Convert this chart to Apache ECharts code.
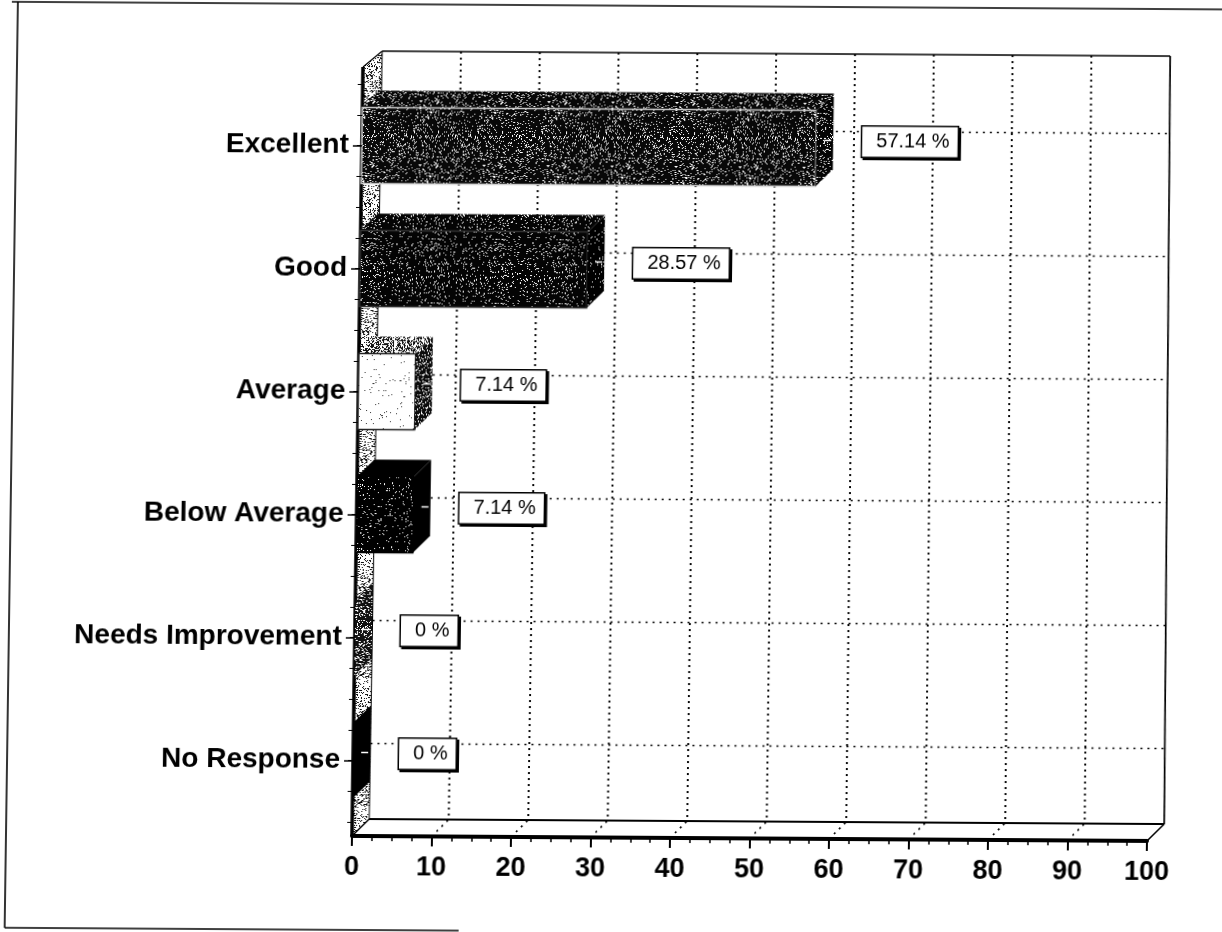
<!DOCTYPE html>
<html><head><meta charset="utf-8">
<style>html,body{margin:0;padding:0;background:#fff;overflow:hidden}
#c{width:1222px;height:932px;transform-origin:0 0;transform:matrix(1,0.0063,-0.0143,1,11.95,-2.2)}</style>
<script src="https://cdn.jsdelivr.net/npm/echarts@6/dist/echarts.min.js"></script>
</head><body><div id="c"></div>
<script>
const categories = ['Excellent','Good','Average','Below Average','Needs Improvement','No Response'];
const values = [57.14,28.57,7.14,7.14,0,0];
const valueLabels = ['57.14 %','28.57 %','7.14 %','7.14 %','0 %','0 %'];
const xTicks = [0,10,20,30,40,50,60,70,80,90,100];

const DEPTH = 17;
function tile(dark, light, density, seed){
  const n=64, cv=document.createElement('canvas'); cv.width=n; cv.height=n;
  const g=cv.getContext('2d'); g.fillStyle=dark; g.fillRect(0,0,n,n); g.fillStyle=light;
  let s=seed;
  for(let y=0;y<n;y++)for(let x=0;x<n;x++){
    s=(s*1103515245+12345)&0x7fffffff;
    if(((s>>12)&255)/255<density) g.fillRect(x,y,1,1);
  }
  return {image:cv,repeat:'repeat'};
}
const P = {
  speck: tile('#080808','#ffffff',0.14,7),
  speckDark: tile('#040404','#ffffff',0.09,11),
  stipple: tile('#ffffff','#111111',0.26,3),
  stippleMid: tile('#ffffff','#111111',0.5,5),
  sideMid: tile('#0c0c0c','#ffffff',0.2,9),
  nearWhite: tile('#ffffff','#333333',0.012,13),
  blackSpeck: tile('#000000','#ffffff',0.05,17),
  grayDark: tile('#111111','#ffffff',0.22,19)
};
const faces = [
  {front:P.speck, top:P.speck, side:P.speckDark, edge:'#cccccc'},
  {front:P.speckDark, top:P.speckDark, side:P.blackSpeck, edge:'#333333'},
  {front:P.nearWhite, top:P.stippleMid, side:P.sideMid, edge:'#222222'},
  {front:P.blackSpeck, top:'#000000', side:'#000000', edge:'#000000'},
  {front:P.grayDark, top:P.grayDark, side:P.grayDark, edge:'#000000'},
  {front:'#000000', top:'#000000', side:'#000000', edge:'#000000'}
];
function line(x1,y1,x2,y2,w,dash){
  return {type:'line',shape:{x1,y1,x2,y2},style:{stroke:'#000',lineWidth:w,lineDash:dash||null,fill:null},silent:true};
}
function poly(points,fill,stroke,w){
  return {type:'polygon',shape:{points},style:{fill,stroke:stroke||null,lineWidth:w||0},silent:true};
}
function renderWalls(params,api){
  const cs=params.coordSys, L=cs.x, R=cs.x+cs.width, bot=cs.y+cs.height, B=bot+14;
  const T=cs.y-17, d=DEPTH, ch=[], topY=T-d+1, botY=B-d;
  // back wall's upper edge leans a little less at the right than at the left (scan keystone)
  const topLean=t=>2-7*t/100;
  const leanAt=(t,y)=>topLean(t)*(botY-y)/(botY-topY);
  ch.push(poly([[L,T],[L+d+topLean(0),topY],[R+d+topLean(100),topY],[R+d,botY],[R,B],[L,B]],'#fff'));
  ch.push(poly([[L,T],[L+d+topLean(0),topY],[L+d,botY],[L,B]],P.stipple));
  xTicks.forEach(t=>{
    const x=api.coord([t,0])[0];
    if(t>0&&t<100){
      ch.push(line(x+d+topLean(t),topY,x+d,botY,1.9,[2,4]));
      ch.push(line(x,B,x+d,botY,1.6,[2,5]));
    }
  });
  categories.forEach((c,i)=>{
    const y=api.coord([0,i])[1]-d;
    ch.push(line(L+d+leanAt(0,y),y,R+d+leanAt(100,y),y,1.5,[2,5]));
  });
  ch.push(line(L+d+topLean(0),topY,R+d+topLean(100),topY,1.7));
  ch.push(line(R+d+topLean(100),topY,R+d,botY,1.7));
  ch.push(line(L+d,botY,R+d,botY,1.8));
  ch.push(line(L+d+topLean(0),topY,L+d,botY,1));
  ch.push(line(L,T,L+d+topLean(0),topY,1.2));
  ch.push(line(L,B,L+d,botY,1.4));
  ch.push(line(R,B,R+d,botY,1.6));
  ch.push(line(L,T,L,B,3.5));
  return {type:'group',children:ch};
}
function renderBars(params,api){
  const i=api.value(1), v=api.value(0);
  const [x1,cy]=api.coord([v,i]), x0=api.coord([0,i])[0];
  const h=76, d=DEPTH, f=faces[i], t=cy-h/2, b=cy+h/2, ch=[];
  if(v>0){
    ch.push(poly([[x0,t],[x1,t],[x1+d,t-d],[x0+d,t-d]],f.top));
    ch.push(poly([[x0,t],[x1,t],[x1,b],[x0,b]],f.front,f.edge,1.5));
  }
  ch.push(poly([[x1,t],[x1+d,t-d],[x1+d,b-d],[x1,b]],f.side));
  ch.push({type:'line',shape:{x1:x1+8,y1:cy-8,x2:x1+15,y2:cy-8},style:{stroke:'#fff',lineWidth:1.5},silent:true});
  ch.push({type:'text',x:x1+46,y:cy-7,silent:true,z2:5,style:{
    text:valueLabels[i],font:'20px "Liberation Sans"',fill:'#000',align:'left',verticalAlign:'middle',
    backgroundColor:'#fff',borderColor:'#000',borderWidth:1.5,padding:[5,8,5,14],
    shadowColor:'#000',shadowBlur:0,shadowOffsetX:2,shadowOffsetY:2}});
  return {type:'group',children:ch};
}
const chart=echarts.init(document.getElementById('c'),null,{renderer:'canvas'});
chart.setOption({
  animation:false,
  backgroundColor:'#fff',
  grid:{left:352,right:75,top:84,bottom:110,containLabel:false},
  xAxis:{type:'value',min:0,max:100,interval:10,offset:14,z:5,
    axisLine:{show:true,onZero:false,lineStyle:{color:'#000',width:4}},
    axisTick:{show:true,length:10,lineStyle:{color:'#000',width:2}},
    minorTick:{show:true,splitNumber:4,length:5,lineStyle:{color:'#000',width:1.5}},
    splitLine:{show:false},
    axisLabel:{color:'#000',fontFamily:'Liberation Sans',fontWeight:'bold',fontSize:27,margin:18}},
  yAxis:[
    {type:'category',data:categories,inverse:true,z:5,
     axisLine:{show:false,onZero:false},
     axisTick:{show:true,alignWithLabel:true,length:9,lineStyle:{color:'#000',width:1.5}},
     axisLabel:{color:'#000',fontFamily:'Liberation Sans',fontWeight:'bold',fontSize:28,margin:13},
     splitLine:{show:false}},
    {type:'value',min:0,max:24,interval:1,position:'left',z:5,
     axisLine:{show:false,onZero:false},axisTick:{show:true,length:5,lineStyle:{color:'#000',width:1}},
     axisLabel:{show:false},splitLine:{show:false}}
  ],
  graphic:[
    {type:'line',z:-1,shape:{x1:-5,y1:4,x2:1240,y2:4},style:{stroke:'#000',lineWidth:1.5}},
    {type:'line',z:-1,shape:{x1:6,y1:4,x2:6,y2:930},style:{stroke:'#000',lineWidth:1.6}},
    {type:'line',z:-1,shape:{x1:6,y1:930,x2:460,y2:930},style:{stroke:'#000',lineWidth:1.6}}
  ],
  series:[
    {type:'custom',name:'walls',z:1,clip:false,silent:true,coordinateSystem:'cartesian2d',xAxisIndex:0,yAxisIndex:0,
     data:[[0,0]],renderItem:renderWalls},
    {type:'custom',name:'Rating',z:3,clip:false,silent:true,coordinateSystem:'cartesian2d',xAxisIndex:0,yAxisIndex:0,
     encode:{x:0,y:1},data:values.map((v,i)=>[v,i]),renderItem:renderBars}
  ]
});
</script></body></html>
